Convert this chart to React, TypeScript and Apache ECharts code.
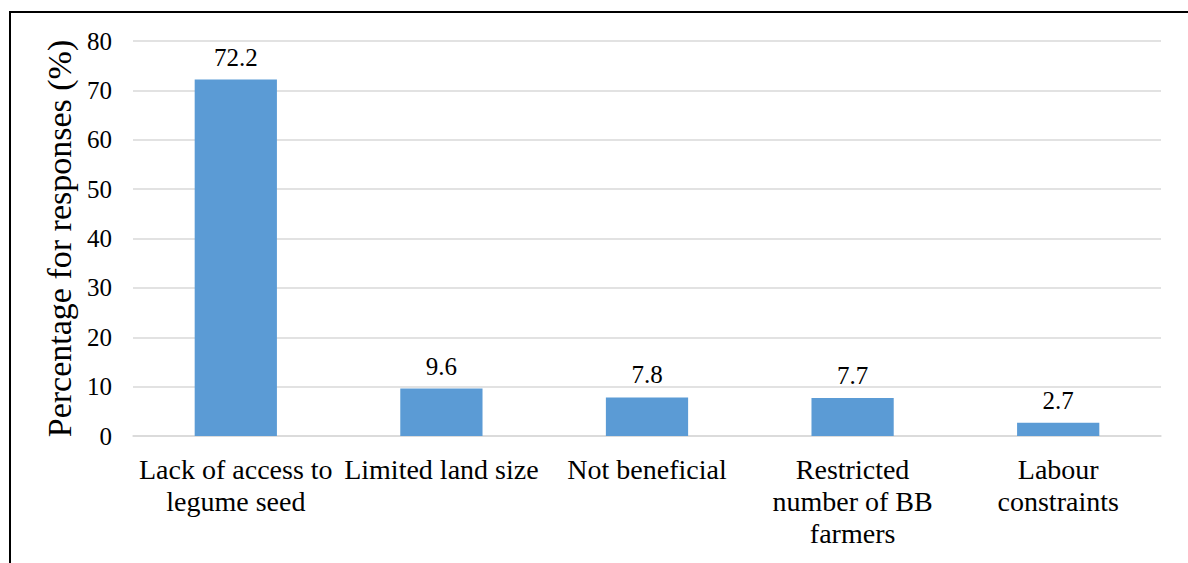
import React, { useEffect, useRef } from "react";
import * as echarts from "echarts";

const categories = [
  "Lack of access to\nlegume seed",
  "Limited land size",
  "Not beneficial",
  "Restricted\nnumber of BB\nfarmers",
  "Labour\nconstraints",
];
const values = [72.2, 9.6, 7.8, 7.7, 2.7];
const yTitle = "Percentage for responses (%)";
const yMin = 0;
const yMax = 80;
const yStep = 10;

const FONT = "Liberation Serif";

export default function App() {
  const ref = useRef<HTMLDivElement>(null);
  useEffect(() => {
    document.body.style.margin = "0";
    const chart = echarts.init(ref.current!, null, { renderer: "svg" });
    chart.setOption({
      animation: false,
      backgroundColor: "#ffffff",
      textStyle: { fontFamily: FONT },
      grid: { left: 133, right: 27, top: 41, bottom: 127, containLabel: false },
      xAxis: {
        type: "category",
        data: categories,
        axisLine: { show: true, lineStyle: { color: "#d9d9d9", width: 1.5 } },
        axisTick: { show: false },
        axisLabel: {
          interval: 0,
          margin: 17,
          color: "#000000",
          fontFamily: FONT,
          fontSize: 28,
          lineHeight: 32,
          align: "center",
        },
      },
      yAxis: {
        type: "value",
        min: yMin,
        max: yMax,
        interval: yStep,
        name: yTitle,
        nameLocation: "middle",
        nameGap: 51,
        nameTextStyle: { color: "#000000", fontFamily: FONT, fontSize: 34 },
        axisLine: { show: false },
        axisTick: { show: false },
        splitLine: { show: true, lineStyle: { color: "#d9d9d9", width: 1.5 } },
        axisLabel: { color: "#000000", fontFamily: FONT, fontSize: 25, margin: 21 },
      },
      series: [
        {
          type: "bar",
          data: values,
          barWidth: "40%",
          itemStyle: { color: "#5b9bd5" },
          label: {
            show: true,
            position: "top",
            distance: 10,
            color: "#000000",
            fontFamily: FONT,
            fontSize: 25,
          },
        },
      ],
      graphic: [
        { type: "line", shape: { x1: 10, y1: 12, x2: 1188, y2: 12 }, style: { stroke: "#000000", lineWidth: 2 } },
        { type: "line", shape: { x1: 10, y1: 11, x2: 10, y2: 563 }, style: { stroke: "#000000", lineWidth: 2 } },
      ],
    });
    return () => chart.dispose();
  }, []);
  return <div ref={ref} style={{ position: "fixed", left: 0, top: 0, width: 1188, height: 563 }} />;
}
